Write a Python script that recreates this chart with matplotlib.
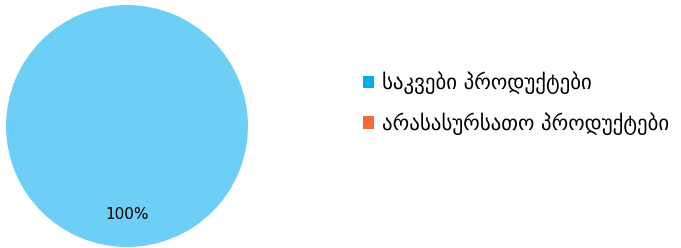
import matplotlib
matplotlib.use("Agg")
import matplotlib.pyplot as plt
from matplotlib.patches import Patch

plt.rcParams["font.family"] = ["DejaVu Sans"]

categories = ["საკვები პროდუქტები", "არასასურსათო პროდუქტები"]
values = [100, 0]
legend_colors = ["#00aeef", "#f26a36"]
slice_colors = ["#6dcff6", "#f26a36"]

fig = plt.figure(figsize=(6.81, 2.48), dpi=100)
ax = fig.add_axes([6 / 681, 1 / 248, 242 / 681, 242 / 248])

shown = [(v, c) for v, c in zip(values, slice_colors) if v > 0]
wedges, texts, autotexts = ax.pie(
    [v for v, c in shown],
    colors=[c for v, c in shown],
    startangle=90,
    counterclock=False,
    autopct="%1.0f%%",
    pctdistance=0.73,
    wedgeprops={"linewidth": 0},
    textprops={"fontsize": 11, "color": "black"},
)
ax.set_xlim(-1, 1)
ax.set_ylim(-1, 1)
ax.set_aspect("equal")
ax.axis("off")

handles = [Patch(facecolor=c, edgecolor="none") for c in legend_colors]
fig.legend(
    handles, categories,
    loc="upper left",
    bbox_to_anchor=(344 / 681, 1 - 53 / 248),
    frameon=False,
    fontsize=15,
    handlelength=0.55,
    handleheight=0.55,
    handletextpad=0.35,
    labelspacing=0.85,
)

fig.savefig("out.png", dpi=100)
